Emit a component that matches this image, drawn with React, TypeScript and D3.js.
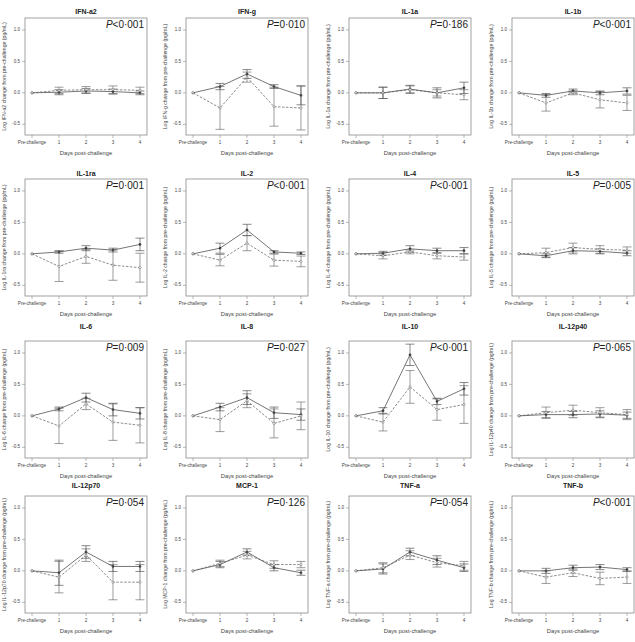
import React from "react";
import * as d3 from "d3";

const cytokines = ["IFN-a2","IFN-g","IL-1a","IL-1b","IL-1ra","IL-2","IL-4","IL-5","IL-6","IL-8","IL-10","IL-12p40","IL-12p70","MCP-1","TNF-a","TNF-b"];
const pLabels = ["<0·001","=0·010","=0·186","<0·001","=0·001","<0·001","<0·001","=0·005","=0·009","=0·027","<0·001","=0·065","=0·054","=0·126","=0·054","<0·001"];
const dayLabels = ["Pre-challenge","1","2","3","4"];
const dayValues = [0,1,2,3,4];
const yTicks = [-0.5,0,0.5,1.0];

const solidMean = [
  [0,0.01,0.03,0.02,0.0],
  [0,0.10,0.30,0.10,-0.04],
  [0,0.0,0.06,0.0,0.08],
  [0,-0.04,0.03,0.0,0.03],
  [0,0.03,0.09,0.06,0.15],
  [0,0.09,0.38,0.03,0.01],
  [0,0.01,0.08,0.05,0.05],
  [0,-0.03,0.05,0.04,0.01],
  [0,0.11,0.29,0.10,0.04],
  [0,0.14,0.29,0.05,0.02],
  [0,0.08,0.97,0.23,0.43],
  [0,0.02,0.02,0.03,0.01],
  [0,-0.03,0.30,0.07,0.07],
  [0,0.10,0.30,0.05,-0.03],
  [0,0.03,0.30,0.17,0.05],
  [0,0.0,0.05,0.06,0.02],
];
const solidErr = [
  [0,0.04,0.04,0.04,0.03],
  [0,0.05,0.07,0.03,0.15],
  [0,0.09,0.06,0.08,0.09],
  [0,0.03,0.03,0.03,0.05],
  [0,0.02,0.04,0.03,0.10],
  [0,0.08,0.09,0.02,0.02],
  [0,0.03,0.05,0.04,0.05],
  [0,0.03,0.05,0.04,0.04],
  [0,0.03,0.07,0.10,0.09],
  [0,0.06,0.11,0.09,0.09],
  [0,0.05,0.17,0.05,0.10],
  [0,0.05,0.05,0.05,0.05],
  [0,0.20,0.10,0.08,0.08],
  [0,0.05,0.05,0.05,0.04],
  [0,0.08,0.06,0.07,0.06],
  [0,0.04,0.04,0.04,0.03],
];
const dashMean = [
  [0,0.04,0.05,0.05,0.04],
  [0,-0.24,0.25,-0.22,-0.24],
  [0,0.0,0.05,0.0,-0.03],
  [0,-0.16,0.0,-0.11,-0.16],
  [0,-0.20,-0.04,-0.18,-0.22],
  [0,-0.10,0.17,-0.10,-0.12],
  [0,-0.03,0.03,-0.03,-0.05],
  [0,0.02,0.10,0.07,0.06],
  [0,-0.16,0.19,-0.10,-0.15],
  [0,-0.06,0.24,-0.12,0.0],
  [0,-0.10,0.46,0.10,0.18],
  [0,0.05,0.09,0.05,0.02],
  [0,-0.10,0.25,-0.18,-0.18],
  [0,0.12,0.25,0.10,0.10],
  [0,0.05,0.25,0.13,0.08],
  [0,-0.10,-0.03,-0.12,-0.10],
];
const dashErr = [
  [0,0.05,0.05,0.06,0.05],
  [0,0.34,0.08,0.31,0.35],
  [0,0.09,0.06,0.05,0.08],
  [0,0.13,0.03,0.13,0.12],
  [0,0.24,0.11,0.24,0.23],
  [0,0.09,0.12,0.095,0.085],
  [0,0.05,0.03,0.05,0.05],
  [0,0.07,0.07,0.06,0.05],
  [0,0.28,0.09,0.29,0.28],
  [0,0.19,0.11,0.23,0.22],
  [0,0.14,0.26,0.17,0.30],
  [0,0.09,0.08,0.08,0.08],
  [0,0.25,0.10,0.28,0.28],
  [0,0.05,0.06,0.06,0.05],
  [0,0.08,0.07,0.07,0.07],
  [0,0.10,0.06,0.10,0.10],
];

const colLeft = [25, 186, 349, 512];
const rowTop = [18, 179, 341, 496];
const titleY = [12, 174, 327, 486];
const W = 122, H = 117;
const FONT = "Liberation Sans, Arial, Helvetica, sans-serif";
const BOX = "#8a8a8a";
const TXT = "#444";

function Panel({ idx }: { idx: number }) {
  const c = idx % 4, r = Math.floor(idx / 4);
  const x0 = colLeft[c], y0 = rowTop[r];
  const x = d3.scaleLinear().domain([-0.26, 4.26]).range([x0, x0 + W]);
  const y = d3.scaleLinear().domain([-0.67, 1.19]).range([y0 + H, y0]);
  const line = d3.line<number>().x((_, i) => x(dayValues[i])).y((v) => y(v));
  const series = [
    { m: solidMean[idx], e: solidErr[idx], dash: "none", stroke: "#3a3a3a", fill: "#3a3a3a" },
    { m: dashMean[idx], e: dashErr[idx], dash: "2.5,1.5", stroke: "#5a5a5a", fill: "none" },
  ];
  const cap = 4.5;
  return (
    <g>
      <text x={x0 + W / 2} y={titleY[r]} textAnchor="middle" dominantBaseline="middle"
        fontFamily={FONT} fontWeight="bold" fontSize={7} fill="#222">{cytokines[idx]}</text>
      <rect x={x0} y={y0} width={W} height={H} fill="none" stroke={BOX} strokeWidth={0.8} />
      {yTicks.map((t) => (
        <g key={t}>
          <line x1={x0 - 3} x2={x0} y1={y(t)} y2={y(t)} stroke={BOX} strokeWidth={0.6} />
          <text x={x0 - 5} y={y(t)} textAnchor="end" dominantBaseline="middle"
            fontFamily={FONT} fontSize={4.5} fill={TXT}>{t === 0 ? "0.0" : t.toFixed(1)}</text>
        </g>
      ))}
      {dayValues.map((d, i) => (
        <g key={d}>
          <line x1={x(d)} x2={x(d)} y1={y0 + H} y2={y0 + H + 3} stroke={BOX} strokeWidth={0.6} />
          <text x={x(d)} y={y0 + H + 8} textAnchor="middle" dominantBaseline="middle"
            fontFamily={FONT} fontSize={4.6} fill={TXT}>{dayLabels[i]}</text>
        </g>
      ))}
      <text x={x0 + W / 2} y={y0 + H + 18} textAnchor="middle" dominantBaseline="middle"
        fontFamily={FONT} fontSize={5.8} fill={TXT}>Days post-challenge</text>
      <text transform={`translate(${x0 - 20},${y0 + H / 2}) rotate(-90)`} textAnchor="middle"
        dominantBaseline="middle" fontFamily={FONT} fontSize={5.2} fill={TXT}>
        {`Log ${cytokines[idx]} change from pre-challenge (pg/mL)`}
      </text>
      <text x={x0 + W - 3} y={y0 + 10} textAnchor="end" fontFamily={FONT} fontSize={10} fill="#222">
        <tspan fontStyle="italic">P</tspan>{pLabels[idx]}
      </text>
      {series.map((s, si) => (
        <g key={si}>
          <path d={line(s.m) || ""} fill="none" stroke={s.stroke} strokeWidth={0.7} strokeDasharray={s.dash} />
          {s.m.map((v, i) => i === 0 ? null : (
            <g key={i}>
              <line x1={x(dayValues[i])} x2={x(dayValues[i])} y1={y(v - s.e[i])} y2={y(v + s.e[i])} stroke={s.stroke} strokeWidth={0.6} />
              <line x1={x(dayValues[i]) - cap} x2={x(dayValues[i]) + cap} y1={y(v + s.e[i])} y2={y(v + s.e[i])} stroke={s.stroke} strokeWidth={0.6} />
              <line x1={x(dayValues[i]) - cap} x2={x(dayValues[i]) + cap} y1={y(v - s.e[i])} y2={y(v - s.e[i])} stroke={s.stroke} strokeWidth={0.6} />
            </g>
          ))}
          {s.m.map((v, i) => (
            <circle key={"p" + i} cx={x(dayValues[i])} cy={y(v)} r={1.1} fill={s.fill === "none" ? "#fff" : s.fill} stroke={s.stroke} strokeWidth={0.5} />
          ))}
        </g>
      ))}
    </g>
  );
}

export default function App() {
  return (
    <svg width={635} height={642} style={{ position: "absolute", left: 0, top: 0, background: "#fff" }}>
      <rect x={0} y={0} width={635} height={642} fill="#fff" />
      {cytokines.map((_, i) => <Panel key={i} idx={i} />)}
    </svg>
  );
}
